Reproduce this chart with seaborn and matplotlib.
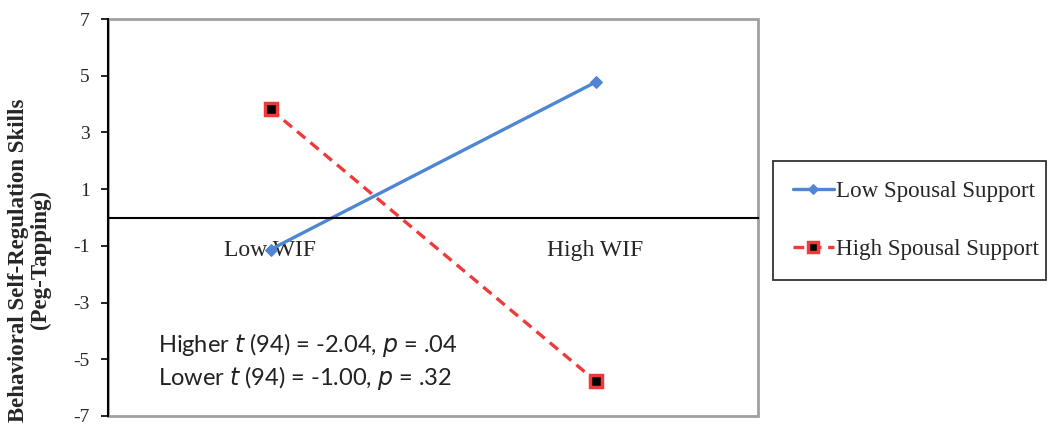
import matplotlib
matplotlib.use("Agg")
import matplotlib.pyplot as plt
import seaborn as sns
import pandas as pd
from matplotlib.patches import Rectangle

# Data
wif_levels = ["Low WIF", "High WIF"]
low_support = [-1.13, 4.77]
high_support = [3.82, -5.76]
series_names = ["Low Spousal Support", "High Spousal Support"]
y_ticks = [7, 5, 3, 1, -1, -3, -5, -7]

sns.set_theme(style="white")
plt.rcParams["font.family"] = ["Liberation Serif", "DejaVu Serif"]

fig = plt.figure(figsize=(10.48, 4.25), dpi=100)
ax = fig.add_axes([108/1048, 1-416/425, (758-108)/1048, (416-19)/425])

blue = "#4F86D3"
red = "#F03A3A"

df_low = pd.DataFrame({"WIF": wif_levels, "value": low_support})
df_high = pd.DataFrame({"WIF": wif_levels, "value": high_support})

sns.lineplot(data=df_low, x="WIF", y="value", sort=False, ax=ax, color=blue,
             linewidth=2.4, marker="D", markersize=6, markerfacecolor=blue,
             markeredgecolor=blue, label=series_names[0])
sns.lineplot(data=df_high, x="WIF", y="value", sort=False, ax=ax, color=red,
             linewidth=2.4, linestyle=(0, (3.2, 2)), marker="s", markersize=9,
             markerfacecolor="black", markeredgecolor=red, markeredgewidth=2.5,
             label=series_names[1])

ax.set_xlim(-0.5, 1.5)
ax.set_ylim(-7, 7)
ax.set_yticks(y_ticks)
ax.set_yticklabels([str(t) for t in y_ticks])
ax.tick_params(axis="y", which="both", left=True, length=5, width=1.2, color="black",
               pad=8, labelsize=14)
ax.tick_params(axis="x", bottom=False, pad=10, labelsize=17)

# spines: left black, bottom as the zero line
for s in ["top", "right"]:
    ax.spines[s].set_visible(False)
ax.spines["left"].set_color("black")
ax.spines["left"].set_linewidth(1.5)
ax.spines["bottom"].set_position(("data", 0))
ax.spines["bottom"].set_color("black")
ax.spines["bottom"].set_linewidth(1.5)

# gray plot-area border
ax.add_patch(Rectangle((0, 0), 1, 1, transform=ax.transAxes, fill=False,
                       edgecolor="#A0A0A0", linewidth=2, clip_on=False, zorder=0))

ax.set_xlabel("")
ax.set_ylabel("Behavioral Self-Regulation Skills\n(Peg-Tapping)", fontsize=16.5,
              fontweight="bold", linespacing=1.05)
ax.yaxis.set_label_coords(-0.087, 0.393)

ax.text(0.077, 0.179, "Higher $\\it{t}$ (94) = -2.04, $\\it{p}$ = .04", transform=ax.transAxes,
        fontsize=17, family=["Lato", "DejaVu Sans"], color="#222222", va="center")
ax.text(0.077, 0.096, "Lower $\\it{t}$ (94) = -1.00, $\\it{p}$ = .32", transform=ax.transAxes,
        fontsize=17, family=["Lato", "DejaVu Sans"], color="#222222", va="center")

handles, labels = ax.get_legend_handles_labels()
if ax.legend_:
    ax.legend_.remove()
leg = fig.legend(handles, labels, loc="center left",
                 bbox_to_anchor=(773/1048, 1-285/425, (1046-773)/1048, 129/425),
                 mode="expand", fontsize=16.6, frameon=True, fancybox=False,
                 edgecolor="black", handlelength=1.8, handletextpad=0.1,
                 labelspacing=1.6, borderpad=0.85, borderaxespad=0, markerscale=0.8)
leg.get_frame().set_linewidth(1.3)

fig.savefig("out.png", dpi=100)
